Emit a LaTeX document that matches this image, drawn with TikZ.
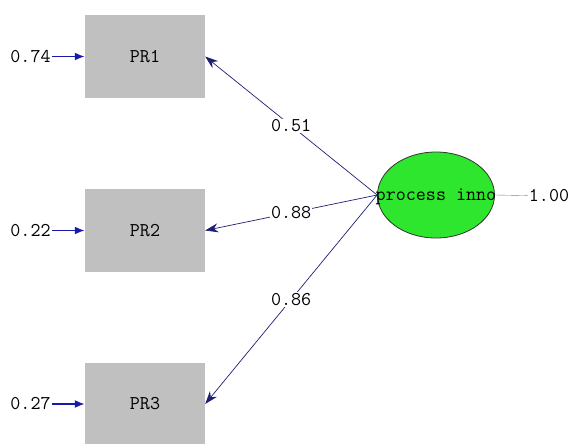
\documentclass[tikz,border=0pt]{standalone}
\usepackage{fontspec}
\usetikzlibrary{positioning, arrows.meta, shapes.geometric}
\definecolor{boxgray}{RGB}{192,192,192}
\definecolor{pathnavy}{RGB}{30,30,115}
\definecolor{errblue}{RGB}{25,25,170}
\definecolor{latgreen}{RGB}{45,230,45}
\tikzset{
x=1pt, y=-1pt, % one unit is one pixel of the reference, y grows downwards
every node/.style={font=\ttfamily\fontsize{19.5}{19.5}\selectfont}, % monospaced output font
observed/.style={rectangle, fill=boxgray, minimum width=120pt, minimum height=83pt}, % indicator boxes
latent/.style={ellipse, draw=black!80, thick, fill=latgreen, minimum width=117pt, minimum height=86pt, inner sep=0pt}, % factor
loading/.style={draw=pathnavy, line width=0.7pt, -{Stealth[length=13pt,width=9pt]}}, % factor -> indicator
errorarrow/.style={draw=errblue, line width=1.8pt, -{Latex[length=10pt,width=8pt]}}, % error -> indicator
estimate/.style={fill=white, inner sep=1pt}, % numbers sitting on a path
}
\begin{document}
\begin{tikzpicture}
    \useasboundingbox (0,0) rectangle (574,444);

    \node[observed] (pr1) at (145,56.5) {PR1};
    \node[observed] (pr2) at (145,230.5) {PR2};
    \node[observed] (pr3) at (145,404) {PR3};

    \node[latent] (inno) at (436,195) {};
    \node[inner sep=0pt] (innotext) at (436,197) {process inno};
    \node[inner sep=1pt] (var) at (549,196) {1.00};

    \node[inner sep=1pt, left=33pt of pr1] (e1) {0.74};
    \node[inner sep=1pt, left=33pt of pr2] (e2) {0.22};
    \node[inner sep=1pt, left=33pt of pr3] (e3) {0.27};

    \draw[errorarrow] (e1) -- (pr1);
    \draw[errorarrow] (e2) -- (pr2);
    \draw[errorarrow] (e3) -- (pr3);

    \draw[loading] (inno.west) -- node[estimate]{0.51} (pr1.east);
    \draw[loading] (inno.west) -- node[estimate]{0.88} (pr2.east);
    \draw[loading] (inno.west) -- node[estimate]{0.86} (pr3.east);

    \draw[gray] (inno.east) -- (var);
\end{tikzpicture}
\end{document}
